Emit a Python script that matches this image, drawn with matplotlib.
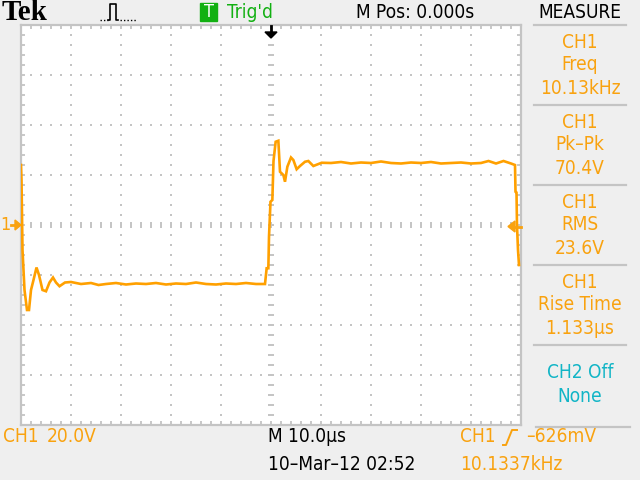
import matplotlib
matplotlib.use('Agg')
import matplotlib.pyplot as plt
import numpy as np
from matplotlib.ticker import MultipleLocator
from matplotlib.patches import Polygon, Rectangle
from matplotlib.lines import Line2D

# ---------------- data (time in microseconds, voltage in volts) ----------------
fall1_t = [-50.0, -49.9, -49.7, -49.3, -48.8, -48.4, -48.0, -47.5, -46.9, -46.4,
           -45.7, -45.0, -44.3, -43.6, -43.0, -42.3, -41.2, -40.0]
fall1_v = [24.0, 18.0, -10.0, -26.0, -34.0, -34.0, -26.0, -22.0, -17.0, -20.0,
           -26.0, -26.5, -23.0, -21.0, -23.0, -24.5, -23.0, -22.8]
low_t = [-38, -36, -34.5, -33, -31, -29, -27, -25, -23, -21, -19, -17, -15, -13,
         -11, -9, -7, -5, -3, -1.2]
low_v = [-23.6, -23.2, -24.0, -23.6, -23.2, -23.8, -23.4, -23.6, -23.2, -23.8,
         -23.4, -23.6, -23.0, -23.6, -23.8, -23.4, -23.6, -23.2, -23.6, -23.6]
rise_t = [-0.87, -0.53, -0.4, -0.1, 0.27, 0.5, 0.93, 1.47, 1.8, 2.47,
          2.8, 3.27, 4.0, 4.47, 5.13, 5.8, 6.8, 7.47, 8.47, 10.13]
rise_v = [-17.3, -17.3, -4.7, 9.3, 10.0, 25.6, 33.3, 33.7, 21.3, 20.0,
          17.3, 23.3, 27.0, 26.0, 22.3, 23.6, 25.3, 25.6, 23.6, 24.9]
high_t = [12, 14, 16, 18, 20, 22, 24, 26, 28, 30, 32, 34, 36, 38, 40, 42, 43.5,
          45, 46.5, 48]
high_v = [24.8, 25.2, 24.6, 25.0, 24.8, 25.4, 24.8, 24.6, 25.0, 24.8, 25.2, 24.6,
          24.8, 25.0, 24.6, 24.8, 25.6, 24.6, 25.6, 24.6]
fall2_t = [48.8, 48.9, 49.1, 49.2, 49.4, 49.6]
fall2_v = [24.0, 13.3, 13.0, 0.0, -10.0, -16.0]

measure_labels = [("CH1", "Freq", "10.13kHz"),
                  ("CH1", "Pk\u2013Pk", "70.4V"),
                  ("CH1", "RMS", "23.6V"),
                  ("CH1", "Rise Time", "1.133\u00b5s")]
ch2_labels = ("CH2 Off", "None")

# ---------------- styling ----------------
W, H = 640, 480
BG = '#efefef'
ORANGE = '#f9a20f'
TRACE = '#ffa000'
CYAN = '#12b5c6'
GREEN = '#12b012'
GRID = '#c4c4c4'
FONT = ['DejaVu Sans']

fig = plt.figure(figsize=(6.4, 4.8), dpi=100)
fig.patch.set_facecolor(BG)

ax = fig.add_axes([21 / W, (H - 425) / H, 500 / W, 400 / H])
ax.set_xlim(-50, 50)
ax.set_ylim(-80, 80)
ax.set_facecolor('white')

# graticule dots
grid_t = [-40, -30, -20, -10, 10, 20, 30, 40]
grid_v = [-60, -40, -20, 20, 40, 60]
dot_t = np.arange(-48, 49, 2)
dot_v = np.arange(-76, 77, 4)
gx = [t for t in grid_t for v in dot_v] + [t for v in grid_v for t in dot_t]
gy = [v for t in grid_t for v in dot_v] + [v for v in grid_v for t in dot_t]
ax.scatter(gx, gy, marker='s', s=2.2, c=GRID, linewidths=0, zorder=1)
ax.plot(dot_t, np.zeros_like(dot_t), ls='none', marker='|', ms=4.5, mew=1.4,
        color=GRID, zorder=1)
ax.plot(np.zeros_like(dot_v), dot_v, ls='none', marker='_', ms=4.5, mew=1.4,
        color=GRID, zorder=1)

for s in ax.spines.values():
    s.set_color(GRID)
    s.set_linewidth(1.6)
ax.xaxis.set_major_locator(MultipleLocator(2))
ax.yaxis.set_major_locator(MultipleLocator(4))
ax.tick_params(which='both', direction='in', length=3, width=1.3, color=GRID,
               top=True, right=True, labelbottom=False, labelleft=False)

t = fall1_t + low_t + rise_t + high_t + fall2_t
v = fall1_v + low_v + rise_v + high_v + fall2_v
ax.plot(t, v, color=TRACE, lw=1.9, zorder=3, solid_joinstyle='miter')

# ---------------- overlay in pixel coordinates ----------------
ov = fig.add_axes([0, 0, 1, 1])
ov.set_xlim(0, W)
ov.set_ylim(H, 0)
ov.axis('off')
ov.patch.set_alpha(0)

def txt(x, y, s, color='black', ha='left', size=13.7, **kw):
    ov.text(x, y, s, color=color, ha=ha, va='center', fontsize=size,
            family=FONT, fontstretch='condensed', **kw)

# top bar
ov.text(2, 12, "Tek", fontsize=21, fontweight='bold',
        family=['Liberation Serif', 'DejaVu Serif'],
        va='center', ha='left', color='black')
# pulse icon
ov.add_line(Line2D([100, 108], [20, 20], color='black', lw=1, ls=(0, (1, 1.5))))
ov.add_line(Line2D([108, 110, 110, 116, 116, 118], [20, 20, 4, 4, 20, 20],
                   color='black', lw=1.2))
ov.add_line(Line2D([120, 136], [20, 20], color='black', lw=1, ls=(0, (1, 1.5))))
ov.add_patch(Rectangle((200, 3), 17, 18, color=GREEN))
txt(208.5, 12, "T", color='white', ha='center', size=13)
txt(227, 12, "Trig'd", color=GREEN)
txt(415, 12, "M Pos: 0.000s", ha='center')
txt(580, 12, "MEASURE", ha='center')

# trigger position arrow
ov.add_line(Line2D([271, 271], [26, 33], color='black', lw=2))
ov.add_patch(Polygon([[265, 32], [277, 32], [271, 38]], closed=True, color='black'))

# channel ground marker and trigger level marker
txt(0, 225, "1", color=ORANGE, size=13)
ov.add_line(Line2D([11, 16], [225, 225], color=ORANGE, lw=2))
ov.add_patch(Polygon([[15, 220], [21, 225], [15, 230]], closed=True, color=ORANGE))
ov.add_line(Line2D([514, 521], [226.5, 226.5], color=ORANGE, lw=2))
ov.add_patch(Polygon([[515, 221], [508, 226.5], [515, 232]], closed=True, color=ORANGE))

# measure panel
for i, (a, b, c) in enumerate(measure_labels):
    y0 = 42 + 80 * i
    txt(580, y0, a, color=ORANGE, ha='center')
    txt(580, y0 + 22, b, color=ORANGE, ha='center')
    txt(580, y0 + 46, c, color=ORANGE, ha='center')
txt(580, 372, ch2_labels[0], color=CYAN, ha='center')
txt(580, 396, ch2_labels[1], color=CYAN, ha='center')
for y in [25, 105, 185, 265, 345]:
    ov.add_line(Line2D([534, 626], [y, y], color=GRID, lw=1.6))
ov.add_line(Line2D([536, 630], [427, 427], color=GRID, lw=1.6))

# bottom status
txt(3, 437, "CH1", color=ORANGE)
txt(47, 437, "20.0V", color=ORANGE)
txt(268, 437, "M 10.0\u00b5s")
txt(268, 464, "10\u2013Mar\u201312 02:52")
txt(460, 437, "CH1", color=ORANGE)
ov.add_line(Line2D([503, 506, 512, 517], [445, 445, 430, 430], color=ORANGE, lw=1.4))
txt(526, 437, "\u2013626mV", color=ORANGE)
txt(460, 464, "10.1337kHz", color=ORANGE)

fig.savefig('out.png', dpi=100, facecolor=BG)
